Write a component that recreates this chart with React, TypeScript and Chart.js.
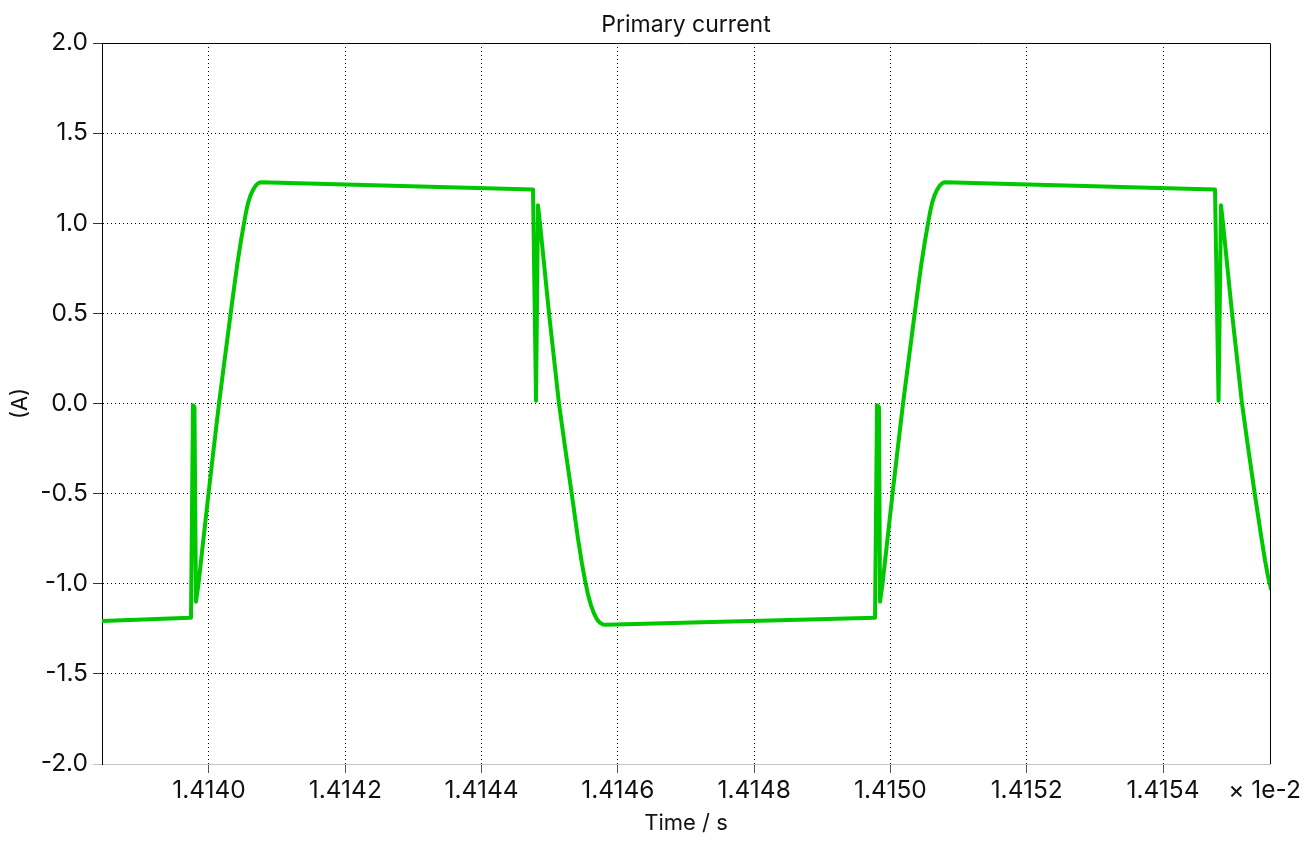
import React, { useEffect, useRef } from "react";
import { Chart, registerables } from "chart.js";

Chart.register(...registerables);

const TITLE = "Primary current";
const X_LABEL = "Time / s";
const Y_LABEL = "(A)";
const X_EXPONENT = "× 1e-2";

const X_MIN = 1.413843;
const X_MAX = 1.415557;
const Y_MIN = -2.0;
const Y_MAX = 2.0;

const xTickValues = [1.414, 1.4142, 1.4144, 1.4146, 1.4148, 1.415, 1.4152, 1.4154];
const yTickValues = [-2.0, -1.5, -1.0, -0.5, 0.0, 0.5, 1.0, 1.5, 2.0];

// time in units of 1e-2 s
const times = [
  // initial low plateau and first turn-on spike
  1.413843, 1.4139721, 1.4139736, 1.4139765, 1.4139787, 1.4139809,
  // first rise
  1.4139846, 1.4139919, 1.4139993, 1.4140069, 1.4140147, 1.4140232, 1.4140318, 1.4140367, 1.4140418,
  1.414047, 1.4140514, 1.4140543, 1.4140572, 1.4140609, 1.4140646, 1.4140682, 1.4140719, 1.4140763,
  // high plateau end and turn-off spike
  1.4144755, 1.4144799, 1.4144828,
  // first fall
  1.4144857, 1.414499, 1.4145136, 1.4145224, 1.4145323, 1.4145415, 1.4145474, 1.4145518, 1.4145562,
  1.4145606, 1.414565, 1.4145694, 1.4145738, 1.4145782, 1.4145826,
  // low plateau end and second turn-on spike
  1.4149774, 1.4149803, 1.4149832, 1.4149847,
  // second rise
  1.4149884, 1.4149957, 1.4150031, 1.4150107, 1.4150185, 1.415027, 1.4150356, 1.4150405, 1.4150456,
  1.4150508, 1.4150552, 1.4150581, 1.415061, 1.4150647, 1.4150684, 1.415072, 1.4150757, 1.4150801,
  // high plateau end and second turn-off spike
  1.4154763, 1.4154815, 1.4154851,
  // second fall
  1.415488, 1.4155013, 1.4155159, 1.4155247, 1.4155346, 1.4155438, 1.4155497, 1.4155541, 1.4155585,
];

// primary current, A
const current = [
  -1.207, -1.189, -1.189, -0.01, -0.02, -1.1,
  -1.0, -0.75, -0.5, -0.25, 0.0, 0.25, 0.5, 0.64, 0.78,
  0.905, 1.0, 1.06, 1.11, 1.155, 1.185, 1.207, 1.221, 1.228,
  1.187, 0.015, 1.1,
  1.0, 0.5, 0.0, -0.24, -0.5, -0.75, -0.89, -0.98, -1.06,
  -1.12, -1.165, -1.198, -1.217, -1.226, -1.228,
  -1.189, -0.01, -0.02, -1.1,
  -1.0, -0.75, -0.5, -0.25, 0.0, 0.25, 0.5, 0.64, 0.78,
  0.905, 1.0, 1.06, 1.11, 1.155, 1.185, 1.207, 1.221, 1.228,
  1.187, 0.015, 1.1,
  1.0, 0.5, 0.0, -0.24, -0.5, -0.73, -0.87, -0.96, -1.03,
];

const FONT_FAMILY = "Inter, 'Noto Sans', sans-serif";
const TICK_FONT_SIZE = 24.5;
const TITLE_FONT_SIZE = 23;
const AXIS_TITLE_FONT_SIZE = 22;

export default function App() {
  const canvasRef = useRef<HTMLCanvasElement | null>(null);

  useEffect(() => {
    const canvas = canvasRef.current;
    if (!canvas) return;

    const textPlugin = {
      id: "frameAndText",
      afterDraw(chart: any) {
        const { ctx, chartArea } = chart;
        const { left, right, top, bottom } = chartArea;
        ctx.save();
        ctx.strokeStyle = "#000";
        ctx.lineWidth = 1;
        ctx.setLineDash([]);
        ctx.beginPath();
        const t = Math.round(top) + 0.5;
        const r = Math.round(right) + 0.5;
        ctx.moveTo(Math.round(left), t);
        ctx.lineTo(r, t);
        ctx.lineTo(r, Math.round(bottom));
        ctx.stroke();

        ctx.fillStyle = "#111";
        const cx = (left + right) / 2;
        ctx.textAlign = "center";
        ctx.textBaseline = "alphabetic";
        ctx.font = `${TITLE_FONT_SIZE}px ${FONT_FAMILY}`;
        ctx.fillText(TITLE, cx, 32);
        ctx.font = `${AXIS_TITLE_FONT_SIZE}px ${FONT_FAMILY}`;
        ctx.fillText(X_LABEL, cx, 830);

        ctx.font = `${TICK_FONT_SIZE}px ${FONT_FAMILY}`;
        ctx.textAlign = "right";
        ctx.fillText(X_EXPONENT, 1301, 798);

        ctx.font = `${AXIS_TITLE_FONT_SIZE}px ${FONT_FAMILY}`;
        ctx.save();
        ctx.translate(20, (top + bottom) / 2);
        ctx.rotate(-Math.PI / 2);
        ctx.textAlign = "center";
        ctx.textBaseline = "middle";
        ctx.fillText(Y_LABEL, 0, 0);
        ctx.restore();

        ctx.restore();
      },
    };

    const chart = new Chart(canvas, {
      type: "line",
      data: {
        datasets: [
          {
            data: times.map((t, i) => ({ x: t, y: current[i] })),
            borderColor: "#00c800",
            borderWidth: 4,
            pointRadius: 0,
            fill: false,
            tension: 0,
            clip: 0,
            borderJoinStyle: "round",
            borderCapStyle: "round",
          },
        ],
      },
      options: {
        animation: false,
        responsive: false,
        maintainAspectRatio: false,
        layout: { padding: { top: 43, right: 40, left: 0, bottom: 0 } },
        plugins: {
          legend: { display: false },
          tooltip: { enabled: false },
          title: { display: false },
        },
        scales: {
          x: {
            type: "linear",
            min: X_MIN,
            max: X_MAX,
            afterBuildTicks: (scale: any) => {
              scale.ticks = xTickValues.map((v) => ({ value: v }));
            },
            afterFit: (scale: any) => {
              scale.height = 82;
            },
            ticks: {
              autoSkip: false,
              maxRotation: 0,
              padding: 3,
              color: "#111",
              font: { family: FONT_FAMILY, size: TICK_FONT_SIZE },
              callback: (v: any) => Number(v).toFixed(4),
            },
            grid: {
              color: "#000",
              lineWidth: 1,
              tickLength: 9,
              tickColor: "#555",
              tickBorderDash: [],
            },
            border: { display: true, color: "#c4c4c4", width: 1, dash: [1, 3] },
          },
          y: {
            type: "linear",
            min: Y_MIN,
            max: Y_MAX,
            afterBuildTicks: (scale: any) => {
              scale.ticks = yTickValues.map((v) => ({ value: v }));
            },
            afterFit: (scale: any) => {
              scale.width = 102;
            },
            ticks: {
              padding: 5,
              color: "#111",
              font: { family: FONT_FAMILY, size: TICK_FONT_SIZE },
              callback: (v: any) => Number(v).toFixed(1),
            },
            grid: {
              color: (c: any) =>
                c.tick && (c.tick.value === Y_MIN || c.tick.value === Y_MAX) ? "rgba(0,0,0,0)" : "#000",
              lineWidth: 1,
              tickLength: 9,
              tickColor: (c: any) => (c.tick && c.tick.value === Y_MIN ? "#c4c4c4" : "#333"),
              tickBorderDash: [],
            },
            border: { display: true, color: "#000", width: 1, dash: [1, 3] },
          },
        },
      },
      plugins: [textPlugin],
    });

    return () => {
      chart.destroy();
    };
  }, []);

  return (
    <div style={{ position: "fixed", left: 0, top: 0, width: 1310, height: 846, background: "#fff" }}>
      <canvas ref={canvasRef} width={1310} height={846} style={{ display: "block" }} />
    </div>
  );
}
